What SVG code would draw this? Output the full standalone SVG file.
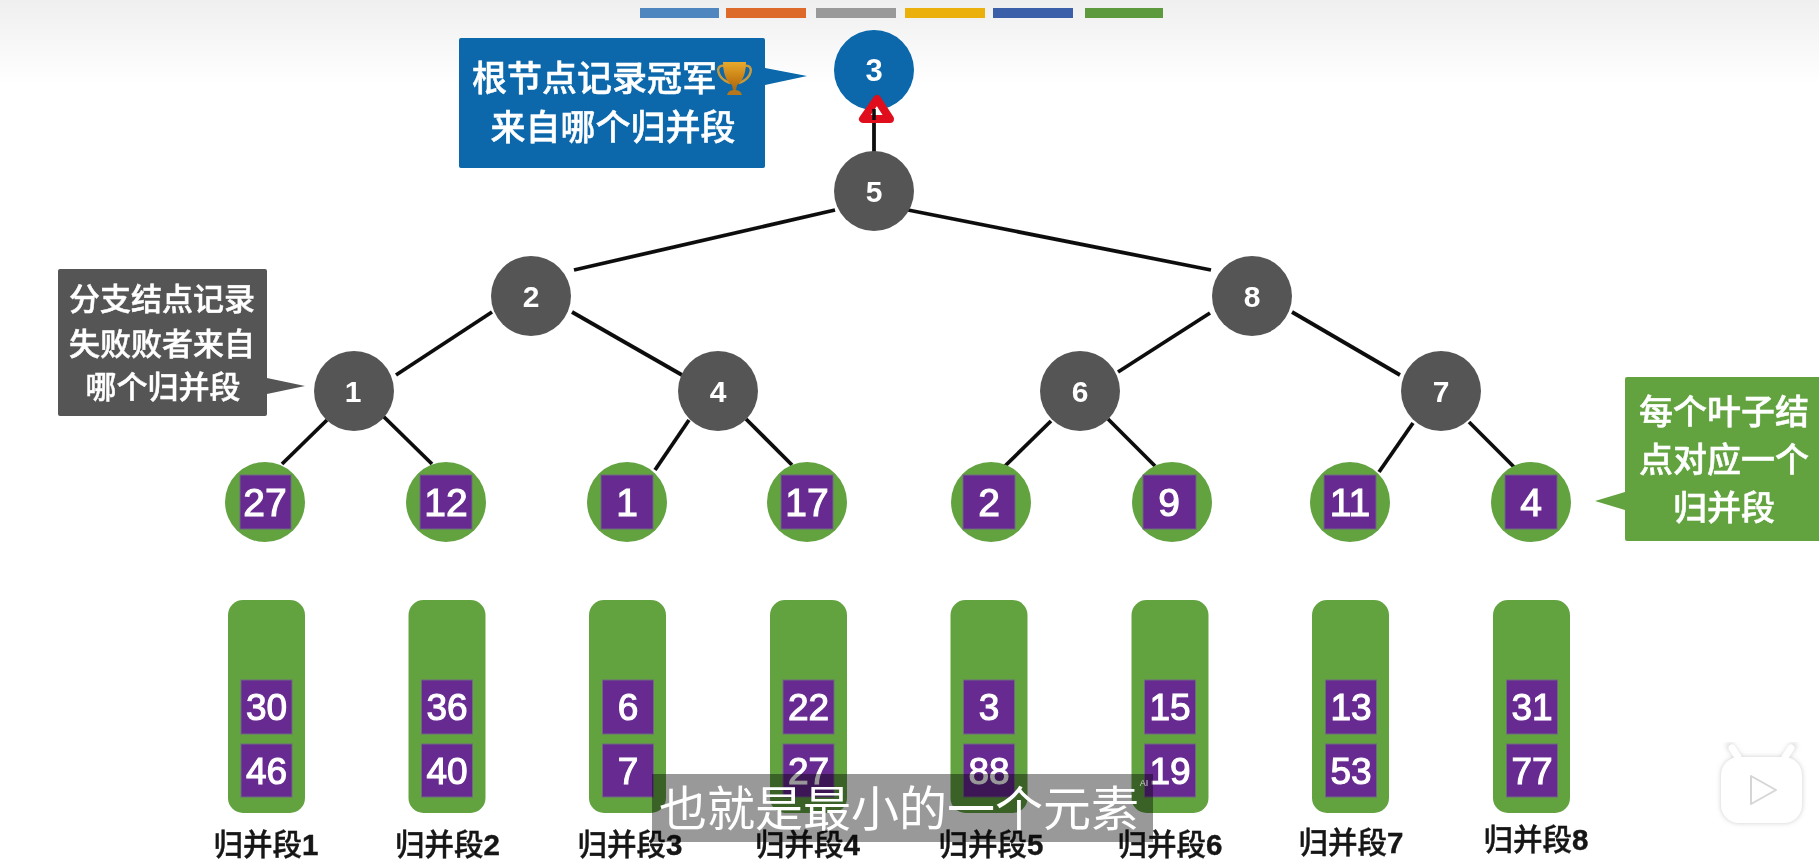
<svg xmlns="http://www.w3.org/2000/svg" width="1819" height="861" viewBox="0 0 1819 861">
<style>
text{font-family:"Noto Sans CJK SC","Liberation Sans",sans-serif;text-anchor:middle}
.n{font-family:"Liberation Sans",Arial,sans-serif;fill:#fff;font-size:37px;stroke:#fff;stroke-width:1.1px}
.m{font-size:39px}
.g{font-family:"Liberation Sans",Arial,sans-serif;fill:#fff;font-size:30px;font-weight:bold}
.call{fill:#fff;font-weight:500;stroke:#fff;stroke-width:.5px}
.lab{fill:#141414;font-size:29.5px;font-weight:500;stroke:#141414;stroke-width:.4px}
.d{font-family:"Liberation Sans",Arial,sans-serif;font-weight:bold}
.dark{fill:#555}
.leaf{fill:#62a341}
.sq{fill:#662a91;stroke:#6e6a80;stroke-width:1}
.edge{stroke:#0e0e0e;stroke-width:3.8;fill:none;stroke-linecap:butt}
</style>
<defs>
<linearGradient id="top" x1="0" y1="0" x2="0" y2="1"><stop offset="0" stop-color="#efefef"/><stop offset="1" stop-color="#fff"/></linearGradient>
<linearGradient id="gold" x1="0" y1="0" x2="0" y2="1"><stop offset="0" stop-color="#e8a92c"/><stop offset=".6" stop-color="#c77f14"/><stop offset="1" stop-color="#a86a14"/></linearGradient>
<filter id="sh" x="-30%" y="-30%" width="160%" height="160%"><feGaussianBlur stdDeviation="2.5"/></filter>
<filter id="soft" x="0" y="0" width="100%" height="100%" filterUnits="userSpaceOnUse" primitiveUnits="userSpaceOnUse"><feGaussianBlur stdDeviation=".55"/></filter>
</defs>
<rect width="1819" height="861" fill="#fff"/>
<rect width="1819" height="85" fill="url(#top)"/>
<g filter="url(#soft)">
<g id="colorbar">
<rect x="640" y="8" width="79" height="10" fill="#4f86c0"/>
<rect x="726" y="8" width="80" height="10" fill="#dd6b2c"/>
<rect x="816" y="8" width="80" height="10" fill="#999"/>
<rect x="905" y="8" width="80" height="10" fill="#ecb00d"/>
<rect x="993" y="8" width="80" height="10" fill="#3a5ea8"/>
<rect x="1085" y="8" width="78" height="10" fill="#5b9a3e"/>
</g>
<g id="connectors">
<path class="edge" d="M874 105V152"/>
<path class="edge" d="M835 210L574 270"/>
<path class="edge" d="M908 210L1211 270"/>
<path class="edge" d="M492 312L396 375"/>
<path class="edge" d="M572 312L682 375"/>
<path class="edge" d="M1210 313L1118 372"/>
<path class="edge" d="M1292 312L1400 375"/>
<path class="edge" d="M327 420L282 464"/>
<path class="edge" d="M383 416L432 464"/>
<path class="edge" d="M689 420L655 470"/>
<path class="edge" d="M746 419L792 465"/>
<path class="edge" d="M1051 421L1005 466"/>
<path class="edge" d="M1108 419L1155 466"/>
<path class="edge" d="M1413 423L1379 472"/>
<path class="edge" d="M1469 422L1514 467"/>
</g>
<g id="node-root"><circle cx="874" cy="70" r="40" fill="#0767ab"/><text class="g" style="font-size:31px" x="874" y="81">3</text></g>
<g id="pointer"><path d="M877 99L863 119H890Z" fill="#fff" stroke="#e0101c" stroke-width="8" stroke-linejoin="round"/><path d="M874 109V120" stroke="#111" stroke-width="3.6"/></g>
<g id="node-5"><circle class="dark" cx="874" cy="191" r="40"/><text class="g" x="874" y="202">5</text></g>
<g id="node-2"><circle class="dark" cx="531" cy="296" r="40"/><text class="g" x="531" y="307">2</text></g>
<g id="node-8"><circle class="dark" cx="1252" cy="296" r="40"/><text class="g" x="1252" y="307">8</text></g>
<g id="node-1"><circle class="dark" cx="354" cy="391" r="40"/><text class="g" x="353" y="402">1</text></g>
<g id="node-4"><circle class="dark" cx="718" cy="391" r="40"/><text class="g" x="718" y="402">4</text></g>
<g id="node-6"><circle class="dark" cx="1080" cy="391" r="40"/><text class="g" x="1080" y="402">6</text></g>
<g id="node-7"><circle class="dark" cx="1441" cy="391" r="40"/><text class="g" x="1441" y="402">7</text></g>

<g id="leaf-1"><circle class="leaf" cx="265" cy="502" r="40"/><rect class="sq" x="240" y="475" width="51" height="54"/><text class="n m" x="265" y="516">27</text></g>
<g id="leaf-2"><circle class="leaf" cx="446" cy="502" r="40"/><rect class="sq" x="420" y="475" width="52" height="54"/><text class="n m" x="446" y="516">12</text></g>
<g id="leaf-3"><circle class="leaf" cx="627" cy="502" r="40"/><rect class="sq" x="601" y="475" width="52" height="54"/><text class="n m" x="627" y="516">1</text></g>
<g id="leaf-4"><circle class="leaf" cx="807" cy="502" r="40"/><rect class="sq" x="781" y="475" width="52" height="54"/><text class="n m" x="807" y="516">17</text></g>
<g id="leaf-5"><circle class="leaf" cx="991" cy="502" r="40"/><rect class="sq" x="963" y="475" width="52" height="54"/><text class="n m" x="989" y="516">2</text></g>
<g id="leaf-6"><circle class="leaf" cx="1172" cy="502" r="40"/><rect class="sq" x="1143" y="475" width="53" height="54"/><text class="n m" x="1169" y="516">9</text></g>
<g id="leaf-7"><circle class="leaf" cx="1350" cy="502" r="40"/><rect class="sq" x="1324" y="475" width="52" height="54"/><text class="n m" x="1350" y="516">11</text></g>
<g id="leaf-8"><circle class="leaf" cx="1531" cy="502" r="40"/><rect class="sq" x="1505" y="475" width="52" height="54"/><text class="n m" x="1531" y="516">4</text></g>

<g id="segment-1"><rect class="leaf" x="228" y="600" width="77" height="213" rx="15"/><rect class="sq" x="241" y="680" width="51" height="54"/><rect class="sq" x="241" y="744" width="51" height="53"/><text class="n" x="266.500" y="720">30</text><text class="n" x="266.500" y="784">46</text><text class="lab" x="266" y="855">归并段<tspan class="d">1</tspan></text></g>
<g id="segment-2"><rect class="leaf" x="408.500" y="600" width="77" height="213" rx="15"/><rect class="sq" x="421.500" y="680" width="51" height="54"/><rect class="sq" x="421.500" y="744" width="51" height="53"/><text class="n" x="447" y="720">36</text><text class="n" x="447" y="784">40</text><text class="lab" x="447.500" y="855">归并段<tspan class="d">2</tspan></text></g>
<g id="segment-3"><rect class="leaf" x="589" y="600" width="77" height="213" rx="15"/><rect class="sq" x="602.500" y="680" width="51" height="54"/><rect class="sq" x="602.500" y="744" width="51" height="53"/><text class="n" x="628" y="720">6</text><text class="n" x="628" y="784">7</text><text class="lab" x="630" y="855">归并段<tspan class="d">3</tspan></text></g>
<g id="segment-4"><rect class="leaf" x="770" y="600" width="77" height="213" rx="15"/><rect class="sq" x="783" y="680" width="51" height="54"/><rect class="sq" x="783" y="744" width="51" height="53"/><text class="n" x="808.500" y="720">22</text><text class="n" x="808.500" y="784">27</text><text class="lab" x="807.500" y="855">归并段<tspan class="d">4</tspan></text></g>
<g id="segment-5"><rect class="leaf" x="950.500" y="600" width="77" height="213" rx="15"/><rect class="sq" x="963.500" y="680" width="51" height="54"/><rect class="sq" x="963.500" y="744" width="51" height="53"/><text class="n" x="989" y="720">3</text><text class="n" x="989" y="784">88</text><text class="lab" x="991" y="855">归并段<tspan class="d">5</tspan></text></g>
<g id="segment-6"><rect class="leaf" x="1131.500" y="600" width="77" height="213" rx="15"/><rect class="sq" x="1144.500" y="680" width="51" height="54"/><rect class="sq" x="1144.500" y="744" width="51" height="53"/><text class="n" x="1170" y="720">15</text><text class="n" x="1170" y="784">19</text><text class="lab" x="1170" y="855">归并段<tspan class="d">6</tspan></text></g>
<g id="segment-7"><rect class="leaf" x="1312" y="600" width="77" height="213" rx="15"/><rect class="sq" x="1325.500" y="680" width="51" height="54"/><rect class="sq" x="1325.500" y="744" width="51" height="53"/><text class="n" x="1351" y="720">13</text><text class="n" x="1351" y="784">53</text><text class="lab" x="1351" y="853">归并段<tspan class="d">7</tspan></text></g>
<g id="segment-8"><rect class="leaf" x="1493" y="600" width="77" height="213" rx="15"/><rect class="sq" x="1506.500" y="680" width="51" height="54"/><rect class="sq" x="1506.500" y="744" width="51" height="53"/><text class="n" x="1532" y="720">31</text><text class="n" x="1532" y="784">77</text><text class="lab" x="1536" y="850">归并段<tspan class="d">8</tspan></text></g>

<g id="callout-root">
<path d="M461 38H763a2 2 0 0 1 2 2V68L807 76L765 85V166a2 2 0 0 1-2 2H461a2 2 0 0 1-2-2V40a2 2 0 0 1 2-2Z" fill="#0767ab"/>
<text class="call" font-size="35" x="472" y="91" style="text-anchor:start">根节点记录冠军</text>
<text class="call" font-size="35" x="613" y="140">来自哪个归并段</text>
<g id="trophy">
<path d="M724 66c-9-2-8 12 6 17M745 66c9-2 8 12-6 17" fill="none" stroke="#c89a3c" stroke-width="2.4"/>
<path d="M723 62H746C746 76 741 83 737 85L736 90H733L732 85C728 83 723 76 723 62Z" fill="url(#gold)"/>
<path d="M727 95C728 91 731 90 734.500 90C738 90 741 91 742 95Z" fill="#b5761a"/>
</g>
</g>
<g id="callout-branch">
<path d="M60 269H265a2 2 0 0 1 2 2V378L305 386L267 394V414a2 2 0 0 1-2 2H60a2 2 0 0 1-2-2V271a2 2 0 0 1 2-2Z" fill="#555"/>
<text class="call" font-size="31" x="162" y="310">分支结点记录</text>
<text class="call" font-size="31" x="162" y="355">失败败者来自</text>
<text class="call" font-size="31" x="163" y="398">哪个归并段</text>
</g>
<g id="callout-leaf">
<path d="M1627 377H1819V541H1627a2 2 0 0 1-2-2V510L1595 501L1625 492V379a2 2 0 0 1 2-2Z" fill="#62a341"/>
<text class="call" font-size="34" x="1724" y="424">每个叶子结</text>
<text class="call" font-size="34" x="1724" y="472">点对应一个</text>
<text class="call" font-size="34" x="1724" y="520">归并段</text>
</g>
<g id="subtitle">
<rect x="652" y="774" width="501" height="68" fill="#000" fill-opacity=".4"/>
<text x="899" y="826" font-size="48" fill="#fff">也就是最小的一个元素</text>
<text x="1144" y="786" font-size="9" fill="#cfcfcf" style="font-family:'Liberation Sans',sans-serif">AI</text>
</g>
<g id="watermark">
<path d="M1738 757L1730 746M1785 757L1793 746" stroke="#bbb" stroke-width="7" stroke-linecap="round" filter="url(#sh)" opacity=".6"/>
<rect x="1721" y="757" width="81" height="66" rx="18" fill="#aaa" filter="url(#sh)" opacity=".6"/>
<path d="M1738 757L1732 748M1785 757L1791 748" stroke="#fff" stroke-width="7" stroke-linecap="round"/>
<rect x="1721" y="757" width="81" height="66" rx="18" fill="#fff"/>
<path d="M1751 776L1776 790L1751 804Z" fill="#fff" stroke="#d6d6d6" stroke-width="2" stroke-linejoin="round"/>
</g>
</g>
</svg>
